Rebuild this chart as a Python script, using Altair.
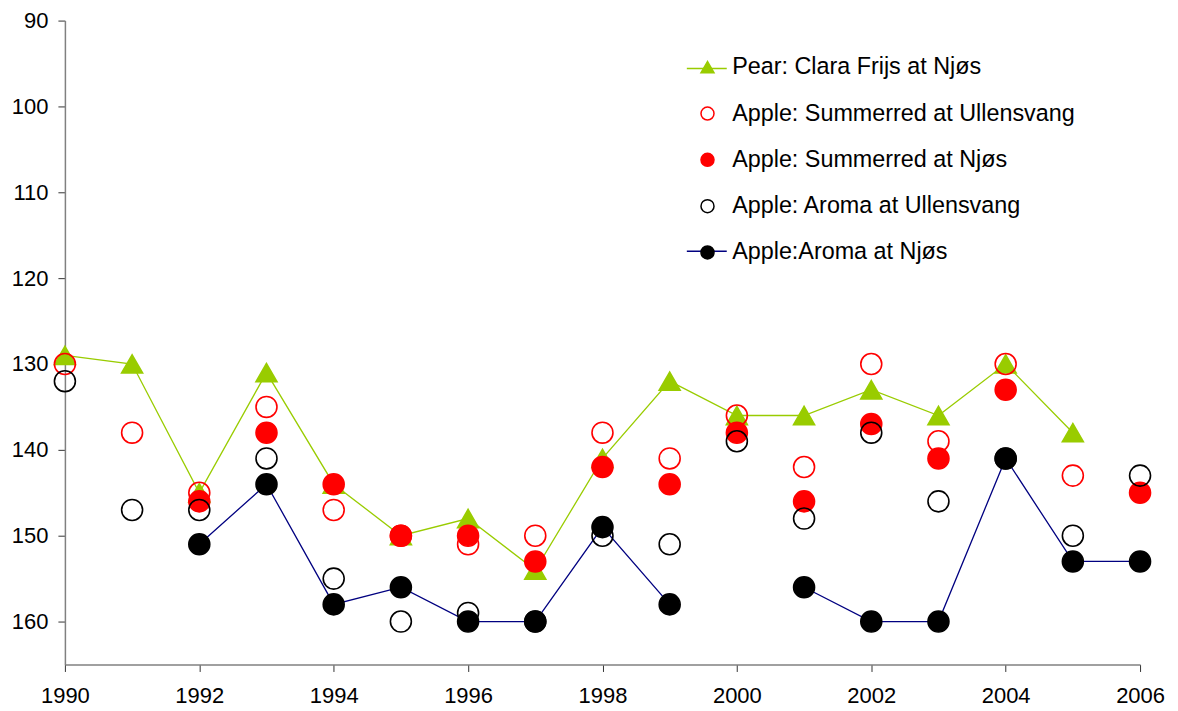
import altair as alt
import pandas as pd

years = list(range(1990, 2007))
series_names = [
    "Pear: Clara Frijs at Njøs",
    "Apple: Summerred at Ullensvang",
    "Apple: Summerred at Njøs",
    "Apple: Aroma at Ullensvang",
    "Apple:Aroma at Njøs",
]

pear_clara_njos = [129, 130, 145, 131, 144, 150, 148, 154, 141, 132, 136, 136, 133, 136, 130, 138, None]
summerred_ullensvang = [130, 138, 145, 135, 147, 150, 151, 150, 138, 141, 136, 142, 130, 139, 130, 143, None]
summerred_njos = [None, None, 146, 138, 144, 150, 150, 153, 142, 144, 138, 146, 137, 141, 133, None, 145]
aroma_ullensvang = [132, 147, 147, 141, 155, 160, 159, 160, 150, 151, 139, 148, 138, 146, 141, 150, 143]
aroma_njos = [None, None, 151, 144, 158, 156, 160, 160, 149, 158, None, 156, 160, 160, 141, 153, 153]

all_values = [pear_clara_njos, summerred_ullensvang, summerred_njos, aroma_ullensvang, aroma_njos]
lined_series = [True, False, False, False, True]

x_ticks = list(range(1990, 2007, 2))
y_ticks = list(range(90, 161, 10))

GREEN = "#99CC00"
RED = "#FF0000"
BLACK = "#000000"
NAVY = "#000080"

shapes = ["triangle-up", "circle", "circle", "circle", "circle"]
stroke_colors = [GREEN, RED, RED, BLACK, BLACK]
fill_colors = [GREEN, "transparent", RED, "transparent", BLACK]
stub_keys = [s + " line" for s in series_names]
stub_colors = [GREEN, "transparent", "transparent", "transparent", NAVY]

# point table
rows = []
for k, (name, vals) in enumerate(zip(series_names, all_values)):
    for yr, v in zip(years, vals):
        if v is not None:
            rows.append({"series": name, "year": yr, "value": v, "order": k})
df_points = pd.DataFrame(rows)

# line table (segments break at missing values)
lrows = []
for k, (name, vals) in enumerate(zip(series_names, all_values)):
    if not lined_series[k]:
        continue
    seg = 0
    for yr, v in zip(years, vals):
        if v is None:
            seg += 1
            continue
        lrows.append({"stub": stub_keys[k], "year": yr, "value": v, "segment": f"{k}-{seg}"})
df_lines = pd.DataFrame(lrows)

FONT = "Liberation Sans"

xscale = alt.Scale(domain=[1990, 2006], nice=False, zero=False)
yscale = alt.Scale(domain=[90, 165], reverse=True, nice=False, zero=False)

xaxis = alt.Axis(values=x_ticks, format="d", grid=False, title=None,
                 domainColor="#808080", domainWidth=1.5, tickColor="#333333", tickWidth=1,
                 tickSize=7, labelFontSize=22, labelFont=FONT, labelColor="black",
                 labelPadding=14, labelFlush=False, labelOverlap=False)
yaxis = alt.Axis(values=y_ticks, format="d", grid=False, title=None,
                 domainColor="#808080", domainWidth=1.5, tickColor="#333333", tickWidth=1,
                 tickSize=7, labelFontSize=22, labelFont=FONT, labelColor="black",
                 labelPadding=10, labelFlush=False, labelOverlap=False)

point_legend = alt.Legend(orient="none", legendX=632, legendY=35, title=None,
                          symbolSize=170, symbolStrokeWidth=1.5, labelFontSize=23.4,
                          labelFont=FONT, labelColor="black", rowPadding=21.4,
                          labelOffset=13, zindex=1, padding=0, labelLimit=600)
stub_legend = alt.Legend(orient="none", legendX=622, legendY=27, title=None,
                         symbolType="stroke", symbolSize=1600, symbolStrokeWidth=1.5,
                         labelExpr="''", labelFontSize=23.4, labelFont=FONT,
                         rowPadding=12.75, zindex=0, padding=0)

lines = alt.Chart(df_lines).mark_line(strokeWidth=1.3).encode(
    x=alt.X("year:Q", scale=xscale, axis=xaxis),
    y=alt.Y("value:Q", scale=yscale, axis=yaxis),
    color=alt.Color("stub:N", scale=alt.Scale(domain=stub_keys, range=stub_colors), legend=stub_legend),
    detail="segment:N",
    order="year:Q",
)

points = alt.Chart(df_points).mark_point(size=441, strokeWidth=1.6, opacity=1).encode(
    x=alt.X("year:Q", scale=xscale, axis=xaxis),
    y=alt.Y("value:Q", scale=yscale, axis=yaxis),
    shape=alt.Shape("series:N", scale=alt.Scale(domain=series_names, range=shapes), legend=point_legend),
    stroke=alt.Stroke("series:N", scale=alt.Scale(domain=series_names, range=stroke_colors), legend=point_legend),
    fill=alt.Fill("series:N", scale=alt.Scale(domain=series_names, range=fill_colors), legend=point_legend),
    order="order:Q",
)

chart = alt.layer(lines, points).properties(
    width=1077, height=645,
    autosize=alt.AutoSizeParams(type="none"),
    padding={"left": 57, "top": 12, "right": 30, "bottom": 48},
    background="white",
).configure_view(stroke=None)

chart.save("out.html", embed_options={"renderer": "svg", "actions": False})
